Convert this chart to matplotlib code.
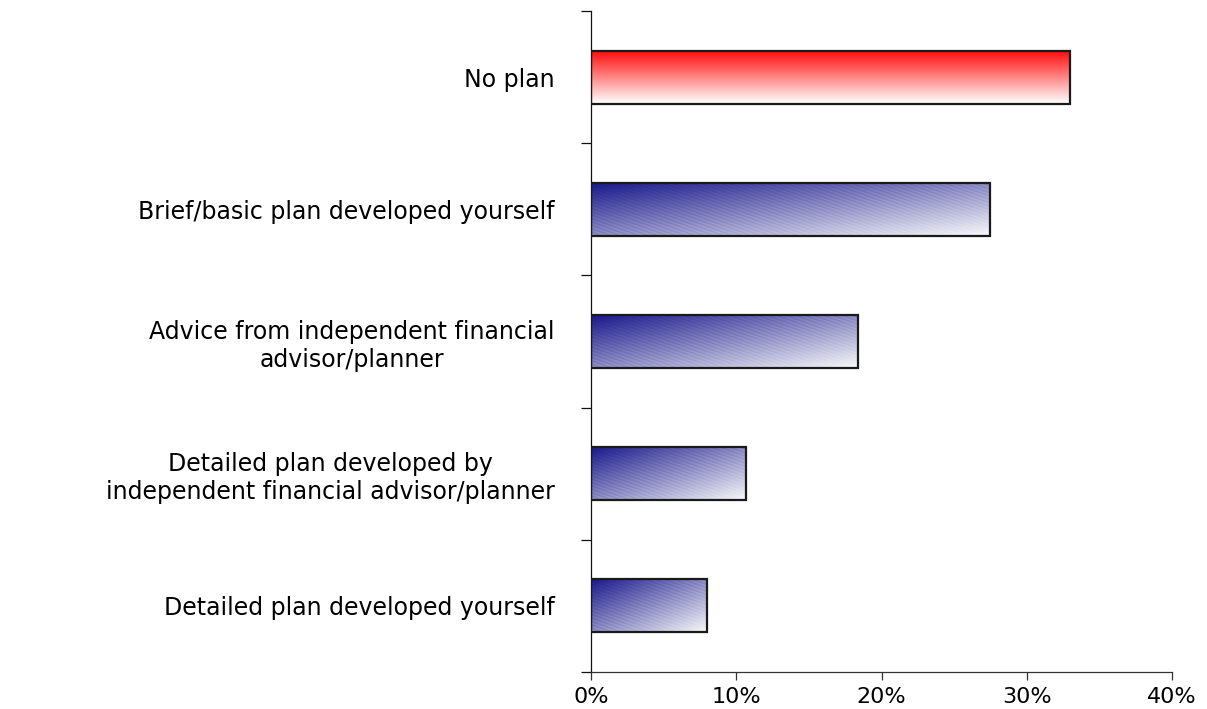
import numpy as np
import matplotlib.pyplot as plt
from matplotlib.colors import LinearSegmentedColormap

# survey answers, top to bottom, and share of respondents (%)
categories = ['No plan',
              'Brief/basic plan developed yourself',
              'Advice from independent financial\nadvisor/planner',
              'Detailed plan developed by\nindependent financial advisor/planner',
              'Detailed plan developed yourself']
shares = [33.0, 27.5, 18.4, 10.7, 8.0]
xticks = [0, 10, 20, 30, 40]

plt.rcParams['font.family'] = ['DejaVu Sans']

fig = plt.figure(figsize=(12.07, 7.09), dpi=100)
ax = fig.add_axes([591/1207, 37/709, 581/1207, 661/709])

ypos = np.arange(len(categories))
bars = ax.barh(ypos, shares, height=0.4, facecolor='none',
               edgecolor='#1a1a1a', linewidth=1.6, zorder=3)

red = LinearSegmentedColormap.from_list('redfade', ['#ffffff', '#ff1010'])
navy = LinearSegmentedColormap.from_list('navyfade', ['#f8f8fa', '#1a1a8c'])

ax.set_xlim(0, 40)
ax.set_ylim(len(categories) - 0.5, -0.5)

#%% gradient fills clipped to each bar (about one cell per screen pixel)
pxPerUnit = 581 / 40.0
ang = np.radians(20)
for i, bar in enumerate(bars):
    x0, y0 = bar.get_x(), bar.get_y()
    w, h = bar.get_width(), bar.get_height()
    nx = max(int(w * pxPerUnit), 2)
    ny = 53
    px, py = np.meshgrid(np.arange(nx), np.arange(ny))
    u = px / (nx - 1)
    v = py / (ny - 1)
    if i == 0:
        g = 1 - v
        cmap = red
    else:
        g = 1 - (u + v) / 2
        # fine diagonal streaks in the fill
        streak = np.sin(2 * np.pi * (-px * np.sin(ang) + py * np.cos(ang)) / 3.2)
        g = np.clip(g + 0.04 * streak * np.minimum(g, 1 - g) * 2, 0, 1)
        cmap = navy
    im = ax.imshow(g, cmap=cmap, vmin=0, vmax=1, extent=(x0, x0 + w, y0 + h, y0),
                   origin='upper', aspect='auto', interpolation='bilinear', zorder=2)
    im.set_clip_path(bar)

ax.set_xlim(0, 40)
ax.set_ylim(len(categories) - 0.5, -0.5)

#%% axes and ticks
ax.spines['top'].set_visible(False)
ax.spines['right'].set_visible(False)
ax.spines['left'].set_color('#111111')
ax.spines['bottom'].set_color('#333333')
ax.spines['left'].set_linewidth(0.9)
ax.spines['bottom'].set_linewidth(0.9)

ax.set_xticks(xticks, labels=[str(t) + '%' for t in xticks])
ax.tick_params(axis='x', length=6, width=0.9, color='#333333', pad=5, labelsize=16)

ax.set_yticks(np.arange(-0.5, len(categories), 1))
ax.set_yticklabels([])
ax.tick_params(axis='y', which='major', length=7, width=0.9, color='#111111')
ax.set_yticks(ypos, labels=categories, minor=True)
ax.tick_params(axis='y', which='minor', length=0, pad=26, labelsize=17)
for lbl in ax.get_yticklabels(minor=True):
    lbl.set_multialignment('center')

fig.savefig('out.png', dpi=100)
